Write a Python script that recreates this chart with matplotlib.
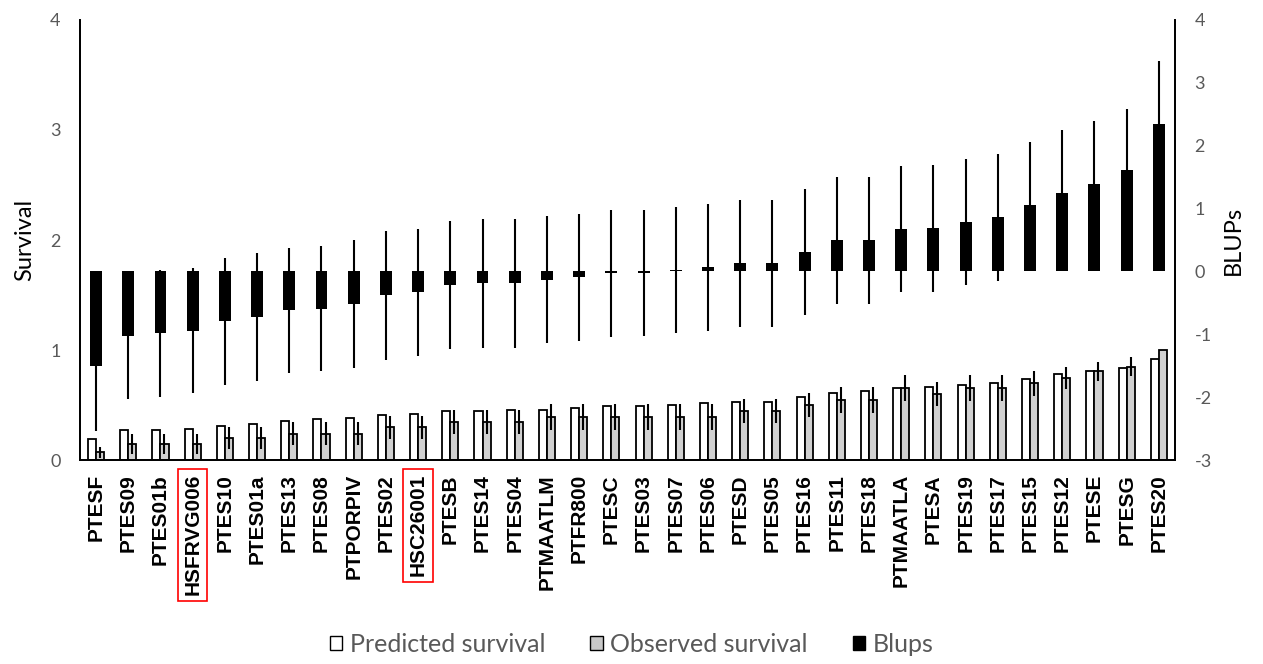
import matplotlib.pyplot as plt
import numpy as np
from matplotlib.patches import Patch

plt.rcParams['font.family'] = ['Lato', 'DejaVu Sans']
plt.rcParams['axes.unicode_minus'] = False

# Clones ordered by BLUP value
clones = ['PTESF', 'PTES09', 'PTES01b', 'HSFRVG006', 'PTES10', 'PTES01a', 'PTES13',
          'PTES08', 'PTPORPIV', 'PTES02', 'HSC26001', 'PTESB', 'PTES14', 'PTES04',
          'PTMAATLM', 'PTFR800', 'PTESC', 'PTES03', 'PTES07', 'PTES06', 'PTESD',
          'PTES05', 'PTES16', 'PTES11', 'PTES18', 'PTMAATLA', 'PTESA', 'PTES19',
          'PTES17', 'PTES15', 'PTES12', 'PTESE', 'PTESG', 'PTES20']
# clones used as checks, highlighted on the axis
checks = ['HSFRVG006', 'HSC26001']

predicted = [0.19, 0.27, 0.27, 0.28, 0.31, 0.33, 0.355, 0.37, 0.385, 0.41, 0.42,
             0.445, 0.445, 0.46, 0.46, 0.475, 0.49, 0.49, 0.50, 0.515, 0.53, 0.53,
             0.57, 0.61, 0.627, 0.657, 0.667, 0.68, 0.697, 0.736, 0.78, 0.806,
             0.833, 0.915]
observed = [0.07, 0.15, 0.15, 0.15, 0.20, 0.20, 0.24, 0.24, 0.24, 0.30, 0.30,
            0.35, 0.35, 0.35, 0.39, 0.39, 0.39, 0.39, 0.39, 0.39, 0.445, 0.445,
            0.50, 0.545, 0.545, 0.657, 0.60, 0.657, 0.657, 0.697, 0.75, 0.806,
            0.85, 1.0]
observed_se = [0.05, 0.09, 0.09, 0.09, 0.10, 0.10, 0.105, 0.105, 0.105, 0.105,
               0.105, 0.11, 0.11, 0.11, 0.12, 0.12, 0.12, 0.12, 0.12, 0.12, 0.11,
               0.11, 0.11, 0.12, 0.12, 0.115, 0.11, 0.115, 0.115, 0.11, 0.10,
               0.09, 0.085, 0.0]

blups = [-1.51, -1.03, -0.98, -0.94, -0.79, -0.72, -0.62, -0.59, -0.52, -0.38,
         -0.33, -0.21, -0.19, -0.19, -0.13, -0.09, -0.03, -0.02, 0.02, 0.07, 0.13,
         0.13, 0.31, 0.50, 0.50, 0.67, 0.69, 0.79, 0.86, 1.05, 1.24, 1.39, 1.61,
         2.35]
blups_se = [1.02, 0.99, 1.01, 1.0, 1.01, 1.02, 1.0, 1.0, 1.02, 1.02, 1.01, 1.02,
            1.02, 1.02, 1.01, 1.01, 1.01, 1.0, 1.0, 1.01, 1.01, 1.01, 1.0, 1.01,
            1.01, 1.0, 1.01, 1.0, 1.01, 1.01, 1.01, 1.01, 0.98, 1.0]

x = np.arange(len(clones))
grey_txt = '#595959'
err_style = dict(ecolor='black', elinewidth=1.5, capsize=0)

fig = plt.figure(figsize=(12.63, 6.64), dpi=100)
ax = fig.add_axes([0.0633, 0.307, 0.867, 0.663])
ax2 = ax.twinx()

# survival bars on the left axis
ax.bar(x - 0.125, predicted, 0.25, color='white', edgecolor='black', linewidth=1.3)
ax.bar(x + 0.125, observed, 0.25, color='#d0d0d0', edgecolor='black', linewidth=1.3,
       yerr=observed_se, error_kw=err_style)

# BLUPs on the right axis
ax2.bar(x, blups, 0.37, color='black', yerr=blups_se, error_kw=err_style)

ax.set_xlim(-0.5, len(clones) - 0.5)
ax.set_ylim(0, 4)
ax2.set_ylim(-3, 4)
ax.set_yticks(range(0, 5))
ax2.set_yticks(range(-3, 5))

ax.set_xticks(x)
ax.set_xticklabels(clones, rotation=90, fontsize=15, fontweight='bold',
                   family='Liberation Sans')
for lab in ax.get_xticklabels():
    if lab.get_text() in checks:
        lab.set_bbox(dict(facecolor='none', edgecolor='red', linewidth=1.2,
                          boxstyle='square,pad=0.25'))

ax.tick_params(axis='x', length=0, pad=10)
ax.tick_params(axis='y', length=0, pad=14, labelsize=13, labelcolor=grey_txt)
ax2.tick_params(axis='y', length=0, pad=14, labelsize=13, labelcolor=grey_txt)

ax.set_ylabel('Survival', fontsize=17, color='black', labelpad=11)
ax2.set_ylabel('BLUPs', fontsize=17, color='black', labelpad=8)

for a in (ax, ax2):
    a.spines['top'].set_visible(False)
    for s in ('left', 'right', 'bottom'):
        a.spines[s].set_linewidth(1.3)

handles = [Patch(facecolor='white', edgecolor='black', label='Predicted survival'),
           Patch(facecolor='#c8c8c8', edgecolor='black', label='Observed survival'),
           Patch(facecolor='black', edgecolor='black', label='Blups')]
leg = fig.legend(handles=handles, loc='lower center', bbox_to_anchor=(0.5, -0.022),
                 ncol=3, frameon=False, fontsize=18, handlelength=0.5,
                 handleheight=0.5, handletextpad=0.3, columnspacing=1.8)
for t in leg.get_texts():
    t.set_color(grey_txt)

fig.savefig('out.png', dpi=100)
